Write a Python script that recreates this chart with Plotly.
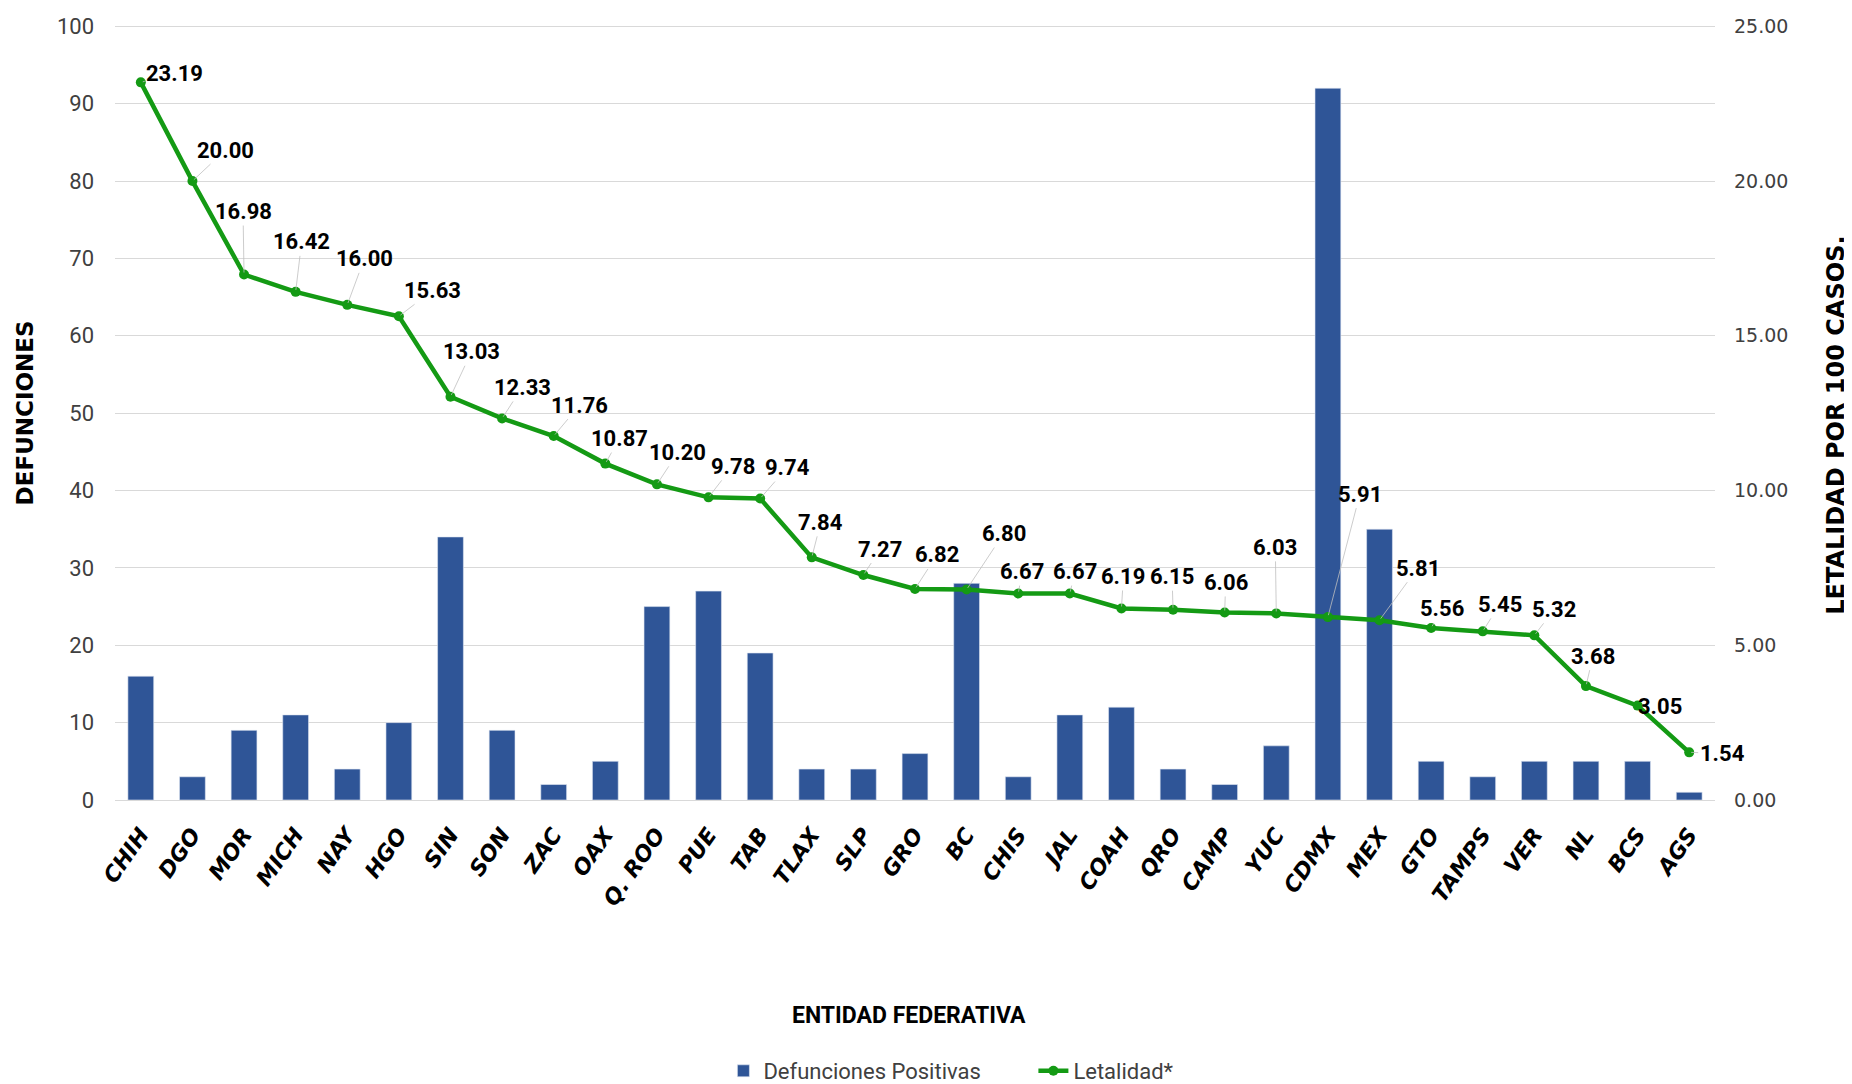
import plotly.graph_objects as go

estados = ["CHIH", "DGO", "MOR", "MICH", "NAY", "HGO", "SIN", "SON", "ZAC", "OAX",
           "Q. ROO", "PUE", "TAB", "TLAX", "SLP", "GRO", "BC", "CHIS", "JAL", "COAH",
           "QRO", "CAMP", "YUC", "CDMX", "MEX", "GTO", "TAMPS", "VER", "NL", "BCS", "AGS"]
defunciones = [16, 3, 9, 11, 4, 10, 34, 9, 2, 5,
               25, 27, 19, 4, 4, 6, 28, 3, 11, 12,
               4, 2, 7, 92, 35, 5, 3, 5, 5, 5, 1]
letalidad = [23.19, 20.00, 16.98, 16.42, 16.00, 15.63, 13.03, 12.33, 11.76, 10.87,
             10.20, 9.78, 9.74, 7.84, 7.27, 6.82, 6.80, 6.67, 6.67, 6.19,
             6.15, 6.06, 6.03, 5.91, 5.81, 5.56, 5.45, 5.32, 3.68, 3.05, 1.54]
left_ticks = list(range(0, 101, 10))
right_ticks = [0, 5, 10, 15, 20, 25]

# label offsets (pixels) for the data labels - style only
label_offsets = [(34, -9), (33, -31), (-1, -63), (6, -50), (17, -46), (34, -26), (21, -45),
                 (20, -31), (26, -31), (14, -25), (21, -32), (24, -31), (27, -31), (9, -35),
                 (17, -26), (22, -34), (37, -56), (4, -22), (5, -22), (2, -32), (-1, -33),
                 (1, -30), (-1, -66), (32, -123), (38, -52), (11, -19), (17, -27), (20, -26),
                 (7, -30), (22, 1), (33, 1)]

BLUE = "#2F5597"
GREEN = "#149A14"
NARROW = "Roboto, sans-serif"
WIDE = "DejaVu Sans, sans-serif"

fig = go.Figure()
fig.add_trace(go.Bar(
    x=estados, y=defunciones, name="Defunciones Positivas",
    marker=dict(color=BLUE, line=dict(color="#dfe6f2", width=0.6)),
    yaxis="y",
))
fig.add_trace(go.Scatter(
    x=estados, y=letalidad, name="Letalidad*", mode="lines+markers",
    line=dict(color=GREEN, width=4.5), marker=dict(color=GREEN, size=10),
    yaxis="y2",
))

annotations = []
for est, val, (dx, dy) in zip(estados, letalidad, label_offsets):
    annotations.append(dict(
        x=est, y=val, xref="x", yref="y2", text=f"{val:.2f}",
        showarrow=True, arrowhead=0, arrowwidth=0.8, arrowcolor="#bfbfbf",
        ax=dx, ay=dy, standoff=2,
        font=dict(family=NARROW, size=22, color="#000000", weight="bold"),
    ))

annotations += [
    dict(text="ENTIDAD FEDERATIVA", xref="paper", yref="paper", x=0.496, y=-0.278,
         xanchor="center", yanchor="middle",
         showarrow=False, font=dict(family=NARROW, size=23, color="#000000", weight="bold")),
    dict(text="DEFUNCIONES", xref="paper", yref="paper", x=-0.0565, y=0.499, textangle=-90,
         xanchor="center", yanchor="middle",
         showarrow=False, font=dict(family=WIDE, size=23, color="#000000", weight="bold")),
    dict(text="LETALIDAD POR 100 CASOS.", xref="paper", yref="paper", x=1.076, y=0.483,
         xanchor="center", yanchor="middle", textangle=-90, showarrow=False,
         font=dict(family=WIDE, size=24, color="#000000", weight="bold")),
]

fig.update_layout(
    width=1852, height=1084,
    margin=dict(l=107, r=145, t=16, b=292, autoexpand=False),
    paper_bgcolor="white", plot_bgcolor="white",
    bargap=0.5,
    showlegend=True,
    legend=dict(orientation="h", x=0.574, xanchor="center", yref="container", y=0.0,
                yanchor="bottom", entrywidth=265, entrywidthmode="pixels",
                font=dict(family=NARROW, size=22, color="#404040"),
                tracegroupgap=0),
    xaxis=dict(
        type="category", range=[-0.5, 30.5], autorange=False, tickangle=-55, showgrid=False,
        showline=True, linecolor="#d9d9d9", linewidth=1,
        tickfont=dict(family=WIDE, size=22, color="#000000", weight="bold", style="italic"),
        ticks="", automargin=False, ticklabelstandoff=12,
    ),
    yaxis=dict(
        range=[0, 100.3], tickvals=left_ticks, showgrid=True, gridcolor="#d9d9d9", gridwidth=1,
        zeroline=False, showline=False, ticks="",
        tickfont=dict(family=NARROW, size=22, color="#404040"),
        automargin=False, ticklabelstandoff=20,
    ),
    yaxis2=dict(
        range=[0, 25.075], tickvals=right_ticks, tickformat=".2f", overlaying="y", side="right",
        showgrid=False, zeroline=False, showline=False, ticks="",
        tickfont=dict(family=WIDE, size=19, color="#404040"),
        automargin=False, ticklabelstandoff=18,
    ),
    annotations=annotations,
)

fig.write_html("out.html")
